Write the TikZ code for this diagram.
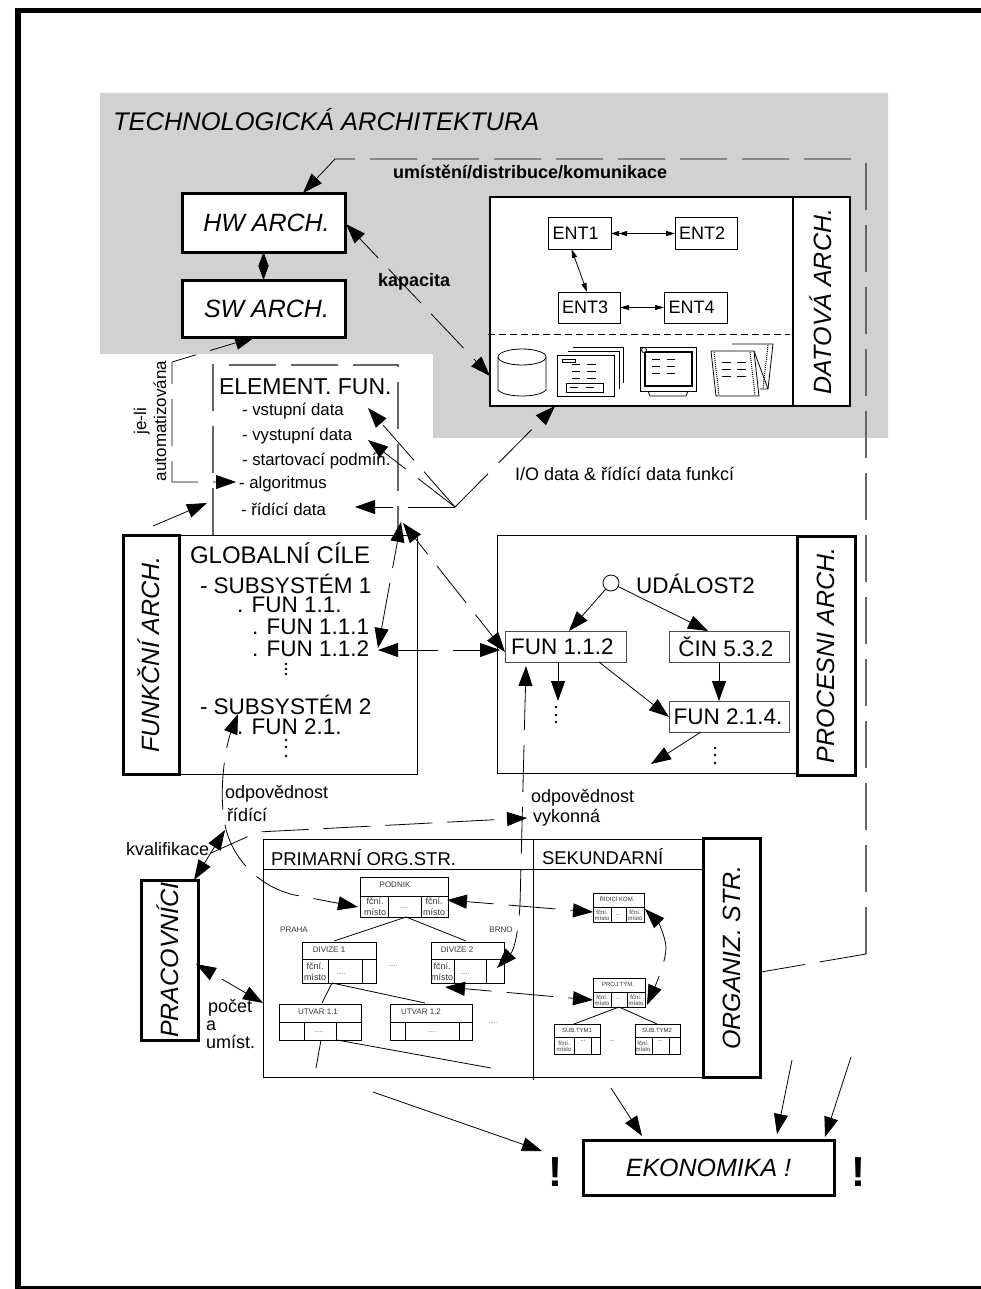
\documentclass[tikz,border=0pt]{standalone}
\usepackage{fontspec}
\setmainfont{Liberation Sans}
\usetikzlibrary{arrows.meta,calc}

\newcommand{\fsz}[1]{\fontsize{#1pt}{#1pt}\selectfont}
% one unit of the organisation chart: x1,y1,x2,y2,ymid,v1,v2
\newcommand{\orgunit}[7]{\draw[orgline] (#1,#2) rectangle (#3,#4) (#1,#5) -- (#3,#5) (#6,#5) -- (#6,#4) (#7,#5) -- (#7,#4);}
% three dots under one another: x,y1,y2,y3
\newcommand{\threedots}[4]{\foreach \y in {#2,#3,#4} \fill (#1,\y) circle (1.4);}

\tikzset{
  archbox/.style={draw,line width=3pt,fill=white,inner sep=0pt,outer sep=0pt,font=\fsz{25}\itshape},
  thinbox/.style={draw,line width=1pt,inner sep=0pt,outer sep=0pt},
  entbox/.style={draw,line width=1pt,fill=white,inner sep=0pt,outer sep=0pt,font=\fsz{18}},
  funbox/.style={draw=black!70,line width=1pt,fill=white,inner sep=0pt,outer sep=0pt,font=\fsz{22.5}},
  txt/.style={inner sep=0pt,outer sep=0pt,anchor=west},
  bigtxt/.style={txt,font=\fsz{22.5}},
  listtxt/.style={txt,font=\fsz{16.8}},
  midtxt/.style={txt,font=\fsz{18}},
  tiny/.style={inner sep=0pt,outer sep=0pt,font=\fsz{8},text=black!80},
  nano/.style={inner sep=0pt,outer sep=0pt,font=\fsz{6},text=black!80},
  orgline/.style={line width=.9pt},
  conn/.style={line width=.8pt},
  arr/.style={conn,-{Triangle[length=20pt,width=14pt]}},
  rra/.style={conn,{Triangle[length=20pt,width=14pt]}-},
  darr/.style={conn,{Triangle[length=20pt,width=14pt]}-{Triangle[length=20pt,width=14pt]}},
  smalld/.style={conn,{Triangle[length=9pt,width=5pt]}-{Triangle[length=9pt,width=5pt]}},
  longdash/.style={dash pattern=on 47pt off 15pt},
  icon/.style={line width=.8pt},
}

\begin{document}
\begin{tikzpicture}[x=1pt,y=-1pt]
  \useasboundingbox (0,0) rectangle (981,1289);
  % frame
  \fill (15,8) rectangle (981,13);
  \fill (15,8) rectangle (21,1289);
  \fill (15,1286) rectangle (981,1289);
  % technology area
  \fill[black!18] (100,93) -- (888,93) -- (888,438) -- (433,438) -- (433,354) -- (100,354) -- cycle;
  \node[txt,font=\fsz{25.5}\itshape] (techname) at (113,120) {TECHNOLOGICKÁ ARCHITEKTURA};

  \node[archbox,minimum width=163pt,minimum height=58pt] (hw) at (263.5,223) {\hspace{6pt}HW ARCH.};
  \node[archbox,minimum width=163pt,minimum height=57pt] (sw) at (263.5,308.5) {\hspace{6pt}SW ARCH.};
  \draw[conn,{Triangle[length=14pt,width=10pt]}-{Triangle[length=14pt,width=10pt]}] (hw) -- (sw);
  \node[txt,font=\fsz{18}\bfseries] (umist) at (393,172) {umístění/distribuce/komunikace};
  \node[txt,font=\fsz{18}\bfseries] (kapac) at (378,282) {kapacita};

  % data architecture
  \node[draw,line width=1.8pt,fill=white,minimum width=303pt,minimum height=209pt,inner sep=0pt,outer sep=0pt] (databox) at (641.5,301.5) {};
  \node[archbox,line width=1.8pt,rotate=90,minimum width=209pt,minimum height=57pt] (dataname) at (821.5,301.5) {\raisebox{2.5pt}{DATOVÁ ARCH.}};
  \node[entbox,minimum width=63pt,minimum height=31pt] (ent1) at (579.5,233.5) {\hspace*{-8pt}ENT1};
  \node[entbox,minimum width=62pt,minimum height=31pt] (ent2) at (706,233.5) {\hspace*{-8pt}ENT2};
  \node[entbox,minimum width=62pt,minimum height=31pt] (ent3) at (589,307.5) {\hspace*{-8pt}ENT3};
  \node[entbox,minimum width=63pt,minimum height=31pt] (ent4) at (695.5,307.5) {\hspace*{-8pt}ENT4};
  \draw[conn,{Triangle[length=8pt,width=5pt]Triangle[length=8pt,width=5pt]}-{Triangle[length=9pt,width=5pt]}] (ent1) -- (ent2);
  \draw[smalld] ($(ent1.south)+(-8,0)$) -- ($(ent3.north)+(-2,0)$);
  \draw[smalld] (ent3) -- (ent4);
  \draw[line width=.8pt,dash pattern=on 7pt off 4pt] (488,334) -- (790,334);
  % icons
  \draw[icon] (498,357) -- (498,390) .. controls (505,398) and (539,398) .. (546,390) -- (546,357);
  \draw[icon] (522,357) ellipse (24 and 8);
  \draw[icon] (557,355) rectangle (614,396) (568,351) -- (619,351) -- (619,389) (573,347) -- (623,347) -- (623,383);
  \draw[icon] (562,359) rectangle (575,362) (566,383) rectangle (603,392);
  \foreach \y in {364,371,378} \draw[icon] (572,\y) -- (580,\y) (587,\y) -- (596,\y);
  \draw[icon] (570,387) -- (578,387) (586,387) -- (594,387);
  \draw[icon] (640,347) rectangle (696,391);
  \draw[line width=1.6pt] (645,352) rectangle (692,386);
  \draw[icon] (648,391) -- (650,396) -- (686,396) -- (688,391);
  \draw[icon,fill=white] (644,350) circle (2.5);
  \foreach \y in {359,366,373} \draw[icon] (652,\y) -- (660,\y) (667,\y) -- (675,\y);
  \draw[icon] (732,344) -- (773,344) -- (768,389) -- (760,389);
  \draw[icon] (754,351) -- (768,389);
  \draw[icon,fill=white] (711,351) -- (754,351) -- (759,396) -- (716,396) -- cycle;
  \draw[line width=1pt,densely dotted] (714,352) -- (719,395) (750,352) -- (755,395) (768,345) -- (763,388);
  \foreach \y in {362,369,376} \draw[icon] (722,\y) -- (731,\y) (737,\y) -- (746,\y);

  % elementary function
  \draw[line width=1.2pt,black!60,longdash] (213,535) -- (213,365) -- (398,365) -- (398,535);
  \node[txt,font=\fsz{23}] (elemname) at (219,387) {ELEMENT. FUN.};
  \node[listtxt] (vstup) at (242,411) {- vstupní data};
  \node[listtxt] (vystup) at (242,436) {- vystupní data};
  \node[listtxt] (start) at (242,461) {- startovací podmín.};
  \node[listtxt] (algor) at (239,484) {- algoritmus};
  \node[listtxt] (ridic) at (241,509) {- řídící data};
  \node[inner sep=0pt,rotate=90,align=center,font=\fsz{17}] (jeli) at (150,421) {je-li\\[3pt]automatizována};

  % function architecture
  \node[archbox,rotate=90,minimum width=239pt,minimum height=56pt] (funcname) at (151,654.5) {\raisebox{5pt}{FUNKČNÍ ARCH.}};
  \node[thinbox,minimum width=238pt,minimum height=239pt] (globbox) at (298,654.5) {};
  \node[txt,font=\fsz{24}] (glob) at (190,553) {GLOBALNÍ CÍLE};
  \node[bigtxt] (sub1) at (200,584) {- SUBSYSTÉM 1};
  \node[bigtxt] (fun11) at (237,605) {. FUN 1.1.};
  \node[bigtxt] (fun111) at (252,627) {. FUN 1.1.1};
  \node[bigtxt] (fun112) at (252,649) {. FUN 1.1.2};
  \threedots{286}{664}{669}{674}
  \node[bigtxt] (sub2) at (200,705) {- SUBSYSTÉM 2};
  \node[bigtxt] (fun21) at (237,727) {. FUN 2.1.};
  \threedots{286}{740}{747}{756}

  % process architecture
  \node[thinbox,minimum width=300pt,minimum height=238pt] (procbox) at (647,654) {};
  \node[archbox,rotate=90,minimum width=239pt,minimum height=58pt] (procname) at (826,655.5) {PROCESNI ARCH.};
  \node[draw,line width=.8pt,circle,minimum size=16pt,inner sep=0pt,outer sep=0pt] (event) at (611,583) {};
  \node[bigtxt] (eventname) at (636,584) {UDÁLOST2};
  \node[funbox,minimum width=121pt,minimum height=31pt] (pfun1) at (565.5,646.5) {\hspace*{-6pt}FUN 1.1.2};
  \node[funbox,minimum width=120pt,minimum height=31pt] (pcin) at (729,646.5) {\hspace*{-6pt}ČIN 5.3.2};
  \node[funbox,minimum width=120pt,minimum height=31pt] (pfun2) at (729,716.5) {\hspace*{-2pt}FUN 2.1.4.};
  \threedots{556}{707}{715}{722}
  \threedots{715}{748}{755}{763}
  \coordinate (pdown) at (558,701);
  \coordinate (pupper) at (651,764);
  \draw[arr] (event) -- (569,631);
  \draw[arr] (event) -- (708,631);
  \draw[arr] (719,662) -- (719,701);
  \draw[arr] (558,662) -- (pdown);
  \draw[arr] (599,662) -- (669,717);
  \draw[arr] (701,732) -- (pupper);

  % organisation
  \node[thinbox,minimum width=441pt,minimum height=238pt] (orgbox) at (483.5,958) {};
  \draw[line width=1pt] (263,869) -- (704,869) (533,839) -- (533,1080);
  \node[archbox,rotate=90,minimum width=239pt,minimum height=57pt] (orgname) at (731.5,957.5) {ORGANIZ. STR.};
  \node[txt,font=\fsz{18.5}] (primname) at (271,858) {PRIMARNÍ ORG.STR.};
  \node[txt,font=\fsz{18.5}] (sekname) at (542,857) {SEKUNDARNÍ};
  \node[archbox,rotate=90,minimum width=160pt,minimum height=57pt] (pracname) at (169.5,960) {\raisebox{3pt}{PRACOVNÍCI}};

  \orgunit{360}{877}{448}{917}{896}{388}{421}
  \orgunit{302}{942}{376}{983}{959}{328}{362}
  \orgunit{431}{942}{504}{983}{959}{454}{486}
  \orgunit{279}{1004}{361}{1040}{1022}{304}{336}
  \orgunit{390}{1004}{472}{1040}{1022}{405}{459}
  \orgunit{593}{893}{644}{922}{907}{611}{626}
  \orgunit{593}{978}{645}{1007}{992}{611}{627}
  \orgunit{554}{1024}{600}{1054}{1037}{574}{591}
  \orgunit{635}{1024}{680}{1054}{1037}{652}{669}

  \node[tiny] (podnik) at (395,885) {PODNIK};
  \node[tiny] (divize1) at (329,950) {DIVIZE 1};
  \node[tiny] (divize2) at (457,950) {DIVIZE 2};
  \node[tiny] (utvar11) at (318,1012) {UTVAR 1.1};
  \node[tiny] (utvar12) at (421,1012) {UTVAR 1.2};
  \node[tiny] (praha) at (294,930) {PRAHA};
  \node[tiny] (brno) at (501,930) {BRNO};
  \node[nano] (ridkom) at (617,899) {ŘÍDICÍ KOM.};
  \node[nano] (projtym) at (618,984) {PROJ.TÝM.};
  \node[nano] (subtym1) at (577,1030) {SUB.TYM1};
  \node[nano] (subtym2) at (657,1030) {SUB.TYM2};
  % function place labels
  \foreach \x/\y in {375/907,434/907,315/972,442/972}
    \node[tiny,align=center,font=\fsz{9}] at (\x,\y) {fční.\\[2pt]místo};
  \foreach \x/\y in {602/915,635/915,602/1000,636/1000,564/1046,643/1046}
    \node[nano,align=center] at (\x,\y) {fční.\\[0pt]místo};
  \foreach \x/\y in {404/908,341/974,465/974,319/1032,432/1032,393/966,493/1023}
    \node[nano] at (\x,\y) {.....};
  \foreach \x/\y in {618/915,619/999,583/1041,660/1041,612/1041}
    \node[nano] at (\x,\y) {...};

  \coordinate (podnikfoot) at (406,917);
  \draw[conn] (podnikfoot) -- (334,941);
  \draw[conn] (podnikfoot) -- (466,941);
  \draw[conn] (332,983) -- (322,1003);
  \draw[conn] (332,983) -- (425,1003);
  \draw[conn] (321,1040) -- (316,1068);
  \draw[conn] (337,1040) -- (491,1068);
  \draw[conn] (619,1007) -- (574,1024);
  \draw[conn] (619,1007) -- (657,1024);

  % economy
  \node[archbox,minimum width=251pt,minimum height=55pt] (ekon) at (708.5,1167.5) {EKONOMIKA !};
  \node[inner sep=0pt,font=\fsz{42}\bfseries] (excl1) at (555,1172) {!};
  \node[inner sep=0pt,font=\fsz{42}\bfseries] (excl2) at (858,1172) {!};
  \draw[arr] (373,1092) -- (542,1151);
  \draw[arr] (611,1088) -- (642,1136);
  \draw[arr] (792,1060) -- (777,1134);
  \draw[arr] (851,1057) -- (825,1137);

  % long connectors
  \coordinate (nebend) at (335,159);
  \coordinate (necorner) at (866,159);
  \coordinate (secorner) at (866,954);
  \coordinate (hwtop) at (303,193);
  \coordinate (orgeast) at (761,972);
  \draw[rra,longdash] (hwtop) -- (nebend) -- (necorner);
  \draw[line width=1.2pt,black!60,longdash,dash phase=58pt] (necorner) -- (secorner);
  \draw[conn,longdash] (secorner) -- (orgeast);
  \draw[darr,longdash,dash phase=20pt] (346,224) -- (490,376);
  \draw[darr,longdash,dash phase=20pt] (255,337) -- (172,362) -- (172,482) -- (236,482);
  \coordinate (iohub) at (455,507);
  \draw[arr,longdash] (iohub) -- (368,408);
  \draw[arr,longdash] (iohub) -- (368,440);
  \draw[arr,longdash] (iohub) -- (355,507);
  \draw[arr,longdash] (iohub) -- (555,406);
  \node[midtxt] (iolabel) at (515,474) {I/O data \& řídící data funkcí};
  \draw[arr] (153,526) -- (207,503);
  \draw[darr,longdash,dash phase=20pt] (401,522) -- (378,648);
  \draw[darr,longdash,dash phase=27pt] (403,523) -- (505,652);
  \draw[darr,longdash,dash phase=20pt] (500,650) -- (378,650);

  \node[midtxt] (odp1) at (225,794) {odpovědnost};
  \node[midtxt] (rid1) at (227,815) {řídící};
  \node[midtxt] (odp2) at (531,798) {odpovědnost};
  \node[midtxt] (vyk2) at (533,818) {vykonná};
  \node[midtxt] (kval) at (126,849) {kvalifikace};
  \node[midtxt] (pocet) at (208,1008) {počet};
  \node[midtxt] (pa) at (206,1026) {a};
  \node[midtxt] (umst) at (206,1042) {umíst.};

  \draw[darr,longdash,dash phase=31pt] (238,714) .. controls (226,745) and (218,790) .. (225,825) .. controls (232,860) and (262,890) .. (300,896) -- (358,907);
  \draw[darr,longdash,dash phase=3pt] (526,666) -- (520,905) .. controls (518,935) and (514,950) .. (497,968);
  \draw[darr] (194,880) -- (225,830);
  \draw[rra,longdash,dash phase=49pt] (527,818) -- (258,832) -- (211,853);
  \draw[darr,longdash,dash phase=52pt] (196,964) -- (263,1003);
  \draw[darr,longdash,dash phase=20pt] (447,900) -- (593,912);
  \draw[darr,longdash,dash phase=20pt] (445,987) -- (593,1000);
  \draw[darr,longdash,dash phase=7pt] (645,909) .. controls (658,922) and (666,938) .. (666,948) .. controls (666,958) and (660,975) .. (647,1005);
\end{tikzpicture}
\end{document}
